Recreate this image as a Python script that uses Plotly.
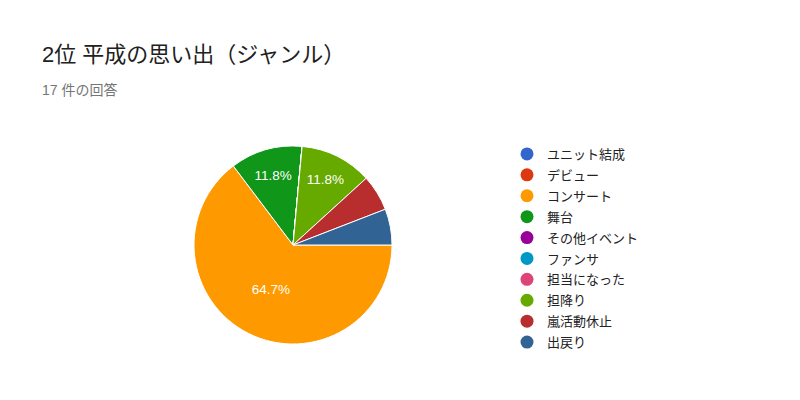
import plotly.graph_objects as go

labels = ["ユニット結成", "デビュー", "コンサート", "舞台", "その他イベント",
          "ファンサ", "担当になった", "担降り", "嵐活動休止", "出戻り"]
counts = [0, 0, 11, 2, 0, 0, 0, 2, 1, 1]
colors = ["#3366cc", "#dc3912", "#ff9900", "#109618", "#990099",
          "#0099c6", "#dd4477", "#66aa00", "#b82e2e", "#316395"]

total = sum(counts)
# Google hides labels on small slices
templates = ["%{percent:.1%}" if c / total >= 0.1 else "" for c in counts]

font = "Arial, 'Noto Sans CJK JP', sans-serif"
W, H, OFF = 800, 400, 8  # page body margin shifts the div by 8px


def px(x):
    return (x - OFF) / W


def py(y):
    return 1 - (y - OFF) / H


fig = go.Figure()
fig.add_trace(go.Pie(
    labels=labels, values=counts, sort=False, direction="clockwise",
    rotation=90, marker=dict(colors=colors, line=dict(color="white", width=1)),
    texttemplate=templates, textposition="inside", insidetextorientation="horizontal",
    textfont=dict(color="white", size=13.5, family=font),
    hoverinfo="label+value+percent", showlegend=False,
    domain=dict(x=[px(194), px(392)], y=[py(344), py(146)])))

# circle legend entries like the Google Forms chart
for lab, col in zip(labels, colors):
    fig.add_trace(go.Scatter(x=[None], y=[None], mode="markers", name=lab,
                             legendgroup=lab,
                             marker=dict(color=col, size=13, symbol="circle")))

fig.update_layout(
    width=W, height=H,
    paper_bgcolor="white", plot_bgcolor="white",
    margin=dict(l=0, r=0, t=0, b=0),
    font=dict(family=font, color="#222"),
    xaxis=dict(visible=False), yaxis=dict(visible=False),
    legend=dict(x=px(507), y=py(139), xanchor="left", yanchor="top",
                font=dict(size=13, color="#222"), itemwidth=30,
                tracegroupgap=1, bgcolor="rgba(0,0,0,0)"),
    annotations=[
        dict(text="2位 平成の思い出（ジャンル）", x=px(40), y=py(55),
             xref="paper", yref="paper", xanchor="left", yanchor="middle",
             showarrow=False, font=dict(size=22, color="#212121", family=font)),
        dict(text="17 件の回答", x=px(40), y=py(90),
             xref="paper", yref="paper", xanchor="left", yanchor="middle",
             showarrow=False, font=dict(size=14, color="#757575", family=font)),
    ],
)

fig.write_html("out.html")
